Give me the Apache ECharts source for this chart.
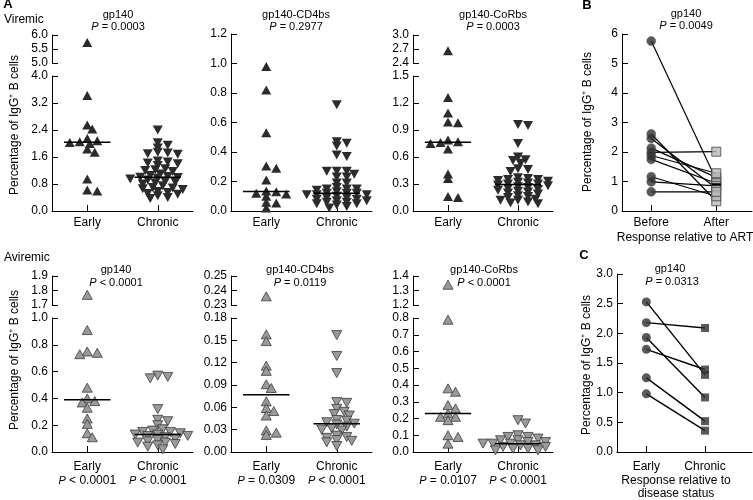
<!DOCTYPE html>
<html><head><meta charset="utf-8">
<script src="https://cdn.jsdelivr.net/npm/echarts@6/dist/echarts.min.js"></script>
<style>html,body{margin:0;padding:0;background:#fff}#c{width:753px;height:500px}</style>
</head><body><div id="c"></div>
<script>
// ================= DATA =================
const groupLabels = ['Early', 'Chronic'];
const artLabels = ['Before', 'After'];
const antigenTitles = ['gp140', 'gp140-CD4bs', 'gp140-CoRbs'];
const pViremic = ['= 0.0003', '= 0.2977', '= 0.0003'];
const pAviremic = ['< 0.0001', '= 0.0119', '< 0.0001'];
const pAviremicEarly = ['< 0.0001', '= 0.0309', '= 0.0107'];
const pAviremicChronic = ['< 0.0001', '< 0.0001', '< 0.0001'];
const pArt = '= 0.0049';
const pDisease = '= 0.0313';

// Viremic
const vGp140Early = [5.73, 3.42, 2.55, 2.43, 2.15, 2.08, 2.05, 2.03, 2.00, 1.84, 1.74, 0.95, 0.62, 0.59];
const vGp140Chronic = [2.40, 2.02, 1.95, 1.87, 1.74, 1.72, 1.70, 1.68, 1.48, 1.45, 1.42, 1.40, 1.35, 1.25, 1.22, 1.20, 1.17, 1.10, 1.05, 1.02, 1.00, 0.99, 0.97, 0.95, 0.92, 0.88, 0.86, 0.84, 0.80, 0.75, 0.70, 0.68, 0.66, 0.64, 0.58, 0.55, 0.52, 0.50, 0.45, 0.40, 0.37];
const vCd4Early = [0.98, 0.82, 0.53, 0.305, 0.29, 0.21, 0.135, 0.13, 0.12, 0.115, 0.10, 0.06, 0.055, 0.02];
const vCd4Chronic = [0.72, 0.47, 0.46, 0.44, 0.38, 0.37, 0.27, 0.27, 0.27, 0.25, 0.23, 0.23, 0.19, 0.19, 0.16, 0.15, 0.15, 0.15, 0.14, 0.13, 0.12, 0.12, 0.12, 0.11, 0.11, 0.11, 0.10, 0.10, 0.09, 0.09, 0.08, 0.08, 0.07, 0.07, 0.06, 0.06, 0.05, 0.05, 0.04, 0.03, 0.02];
const vCoREarly = [2.66, 1.26, 1.09, 0.99, 0.98, 0.79, 0.77, 0.76, 0.75, 0.69, 0.41, 0.36, 0.16, 0.15];
const vCoRChronic = [0.96, 0.95, 0.75, 0.60, 0.57, 0.56, 0.53, 0.47, 0.46, 0.44, 0.37, 0.36, 0.35, 0.35, 0.34, 0.33, 0.32, 0.31, 0.30, 0.30, 0.29, 0.28, 0.27, 0.26, 0.25, 0.24, 0.23, 0.22, 0.21, 0.20, 0.19, 0.17, 0.16, 0.15, 0.13, 0.12, 0.12, 0.10, 0.09, 0.08];
// Aviremic
const aGp140Early = [1.77, 0.91, 0.75, 0.74, 0.73, 0.48, 0.40, 0.38, 0.37, 0.33, 0.25, 0.21, 0.14, 0.11];
const aGp140Chronic = [0.57, 0.56, 0.55, 0.32, 0.24, 0.23, 0.20, 0.17, 0.16, 0.15, 0.15, 0.14, 0.13, 0.13, 0.12, 0.12, 0.11, 0.10, 0.09, 0.08, 0.07, 0.07, 0.06, 0.05, 0.04, 0.02];
const aCd4Early = [0.236, 0.158, 0.149, 0.116, 0.109, 0.091, 0.086, 0.068, 0.059, 0.055, 0.049, 0.029, 0.026, 0.023];
const aCd4Chronic = [0.157, 0.129, 0.106, 0.067, 0.066, 0.058, 0.054, 0.051, 0.049, 0.043, 0.042, 0.040, 0.038, 0.037, 0.034, 0.032, 0.030, 0.029, 0.022, 0.020, 0.019, 0.016, 0.015, 0.013, 0.008];
const aCoREarly = [1.34, 0.79, 0.38, 0.36, 0.28, 0.26, 0.23, 0.21, 0.21, 0.19, 0.10, 0.09, 0.05];
const aCoRChronic = [0.19, 0.17, 0.10, 0.09, 0.09, 0.08, 0.07, 0.07, 0.06, 0.06, 0.05, 0.05, 0.05, 0.04, 0.04, 0.03, 0.03, 0.03, 0.02, 0.02, 0.01, 0.01];
// Panel B: before / after ART (paired)
const artBefore = [5.76, 2.61, 2.46, 2.13, 1.99, 1.88, 1.75, 1.16, 0.99, 0.65];
const artAfter  = [1.05, 0.33, 0.77, 1.14, 2.01, 1.28, 0.94, 0.50, 0.85, 0.65];
// Panel C: early / chronic (paired)
const disEarly   = [2.53, 2.18, 1.93, 1.73, 1.25, 0.98];
const disChronic = [1.30, 2.09, 0.92, 1.39, 0.52, 0.36];

// ================= LAYOUT / STYLE =================
const FONT = "'Liberation Sans', Arial, Helvetica, sans-serif";
const DARK = '#2b2b2b', GRAY = '#9a9a9a', EDGE = '#3a3a3a';
const YNAME = 'Percentage of IgG\u207A B cells';
const colX = [[52, 193], [231, 372], [413, 553]];
const topRow = {lower: {top: 76, bottom: 211}, upper: {top: 35, bottom: 63}, full: {top: 34, bottom: 211}, titleY: 15, pY: 27};
const botRow = {lower: {top: 318, bottom: 452}, upper: {top: 276, bottom: 305}, titleY: 270, pY: 283};

const panels = [
  {early: vGp140Early, chronic: vGp140Chronic, row: topRow, col: 0, title: antigenTitles[0], p: pViremic[0], tx: 118,
   lower: {max: 4.0, interval: 0.8, dec: 1}, upper: {min: 5.0, max: 6.0, interval: 0.5, dec: 1}, fill: DARK, edge: DARK},
  {early: vCd4Early, chronic: vCd4Chronic, row: topRow, col: 1, title: antigenTitles[1], p: pViremic[1], tx: 296,
   lower: {max: 1.2, interval: 0.2, dec: 1}, upper: null, fill: DARK, edge: DARK},
  {early: vCoREarly, chronic: vCoRChronic, row: topRow, col: 2, title: antigenTitles[2], p: pViremic[2], tx: 493,
   lower: {max: 1.5, interval: 0.3, dec: 1}, upper: {min: 2.4, max: 3.0, interval: 0.3, dec: 1}, fill: DARK, edge: DARK},
  {early: aGp140Early, chronic: aGp140Chronic, row: botRow, col: 0, title: antigenTitles[0], p: pAviremic[0], tx: 116,
   lower: {max: 1.0, interval: 0.2, dec: 1}, upper: {min: 1.7, max: 1.9, interval: 0.1, dec: 1}, fill: GRAY, edge: EDGE,
   sub: [pAviremicEarly[0], pAviremicChronic[0]]},
  {early: aCd4Early, chronic: aCd4Chronic, row: botRow, col: 1, title: antigenTitles[1], p: pAviremic[1], tx: 300,
   lower: {max: 0.18, interval: 0.03, dec: 2}, upper: {min: 0.23, max: 0.25, interval: 0.01, dec: 2}, fill: GRAY, edge: EDGE,
   sub: [pAviremicEarly[1], pAviremicChronic[1]]},
  {early: aCoREarly, chronic: aCoRChronic, row: botRow, col: 2, title: antigenTitles[2], p: pAviremic[2], tx: 484,
   lower: {max: 0.8, interval: 0.1, dec: 1}, upper: {min: 1.2, max: 1.4, interval: 0.1, dec: 1}, fill: GRAY, edge: EDGE,
   sub: [pAviremicEarly[2], pAviremicChronic[2]]}
];

const grid = [], xAxis = [], yAxis = [], series = [], graphic = [];
const RICH = {i: {fontStyle: 'italic', fontSize: 11, fontFamily: FONT, color: '#000'}};

function txt(x, y, text, o) {
  o = o || {};
  const size = o.size || 11;
  graphic.push({type: 'text', x: x, y: y, rotation: o.rot || 0, silent: true, z: 10,
    style: {text: text, fill: '#000', fontSize: size, fontFamily: FONT, fontWeight: o.weight || 'normal',
      align: o.align || 'center', verticalAlign: 'middle',
      rich: {i: {fontStyle: 'italic', fontSize: size, fontFamily: FONT, fill: '#000'}}}});
}
function median(a) {
  const s = a.slice().sort((p, q) => p - q); const n = s.length;
  return n % 2 ? s[(n - 1) / 2] : (s[n / 2 - 1] + s[n / 2]) / 2;
}
// beeswarm: spreads markers horizontally (pixel space) so they do not overlap
function swarm(values, toPy, pxPerUnit, w, h) {
  const order = values.map((v, i) => i).sort((a, b) => values[b] - values[a]);
  const placed = [], off = new Array(values.length).fill(0);
  const step = 2.5;
  for (const i of order) {
    const py = toPy(values[i]);
    for (let k = 0; k < 200; k++) {
      const m = Math.ceil(k / 2) * (k % 2 ? 1 : -1);
      const px = m * step;
      if (placed.every(p => ((p.x - px) / w) ** 2 + ((p.y - py) / h) ** 2 >= 1)) {
        off[i] = px / pxPerUnit; placed.push({x: px, y: py}); break;
      }
    }
  }
  return off;
}
function yAxisCfg(g, min, max, interval, dec) {
  return {gridIndex: g, type: 'value', min: min, max: max, interval: interval,
    splitLine: {show: false},
    axisLine: {show: true, onZero: false, lineStyle: {color: '#000', width: 1}},
    axisTick: {show: true, inside: true, length: 6, lineStyle: {color: '#000', width: 1}},
    axisLabel: {show: true, fontSize: 12, fontFamily: FONT, color: '#000', margin: 4,
      formatter: v => Number(v).toFixed(dec)}};
}
function xAxisCfg(g, min, max, labels, sub, margin, show) {
  return {gridIndex: g, type: 'value', min: min, max: max, show: show,
    splitLine: {show: false},
    axisLine: {show: true, onZero: false, lineStyle: {color: '#000', width: 1}},
    axisTick: {show: true, inside: true, length: 6, customValues: [0, 1], lineStyle: {color: '#000', width: 1}},
    axisLabel: {show: true, customValues: [0, 1], fontSize: 12, fontFamily: FONT, color: '#000', margin: margin,
      lineHeight: 14, rich: RICH,
      formatter: v => { const i = Math.round(v); return sub ? labels[i] + '\n{i|P} ' + sub[i] : labels[i]; }}};
}

panels.forEach(pn => {
  const [x0, x1] = colX[pn.col];
  const R = pn.row;
  const low = pn.upper ? R.lower : (R.full || R.lower);
  const xmin = -0.5, xmax = 1.5;
  const pxU = (x1 - x0) / (xmax - xmin);
  const gL = grid.length;
  grid.push({left: x0, top: low.top, width: x1 - x0, height: low.bottom - low.top});
  xAxis.push(xAxisCfg(gL, xmin, xmax, groupLabels, pn.sub, pn.sub ? 8 : 5, true));
  yAxis.push(yAxisCfg(gL, 0, pn.lower.max, pn.lower.interval, pn.lower.dec));
  let gU = -1;
  if (pn.upper) {
    gU = grid.length;
    grid.push({left: x0, top: R.upper.top, width: x1 - x0, height: R.upper.bottom - R.upper.top});
    xAxis.push(xAxisCfg(gU, xmin, xmax, groupLabels, null, 5, false));
    yAxis.push(yAxisCfg(gU, pn.upper.min, pn.upper.max, pn.upper.interval, pn.upper.dec));
  }
  const toPy = v => {
    if (pn.upper && v > pn.lower.max) {
      return R.upper.bottom - (v - pn.upper.min) / (pn.upper.max - pn.upper.min) * (R.upper.bottom - R.upper.top);
    }
    return low.bottom - v / pn.lower.max * (low.bottom - low.top);
  };
  [pn.early, pn.chronic].forEach((vals, gi) => {
    const off = swarm(vals, toPy, pxU, 9, 4.3);
    const lowPts = [], upPts = [];
    vals.forEach((v, i) => {
      const pt = [gi + off[i], v];
      if (pn.upper && v > pn.lower.max) upPts.push(pt); else lowPts.push(pt);
    });
    const base = {type: 'scatter', symbol: 'triangle', symbolSize: [10, 9], symbolRotate: gi === 0 ? 0 : 180,
      itemStyle: {color: pn.fill, borderColor: pn.edge, borderWidth: pn.fill === GRAY ? 0.8 : 0, opacity: 1},
      silent: true, z: 3};
    series.push(Object.assign({}, base, {xAxisIndex: gL, yAxisIndex: gL, data: lowPts}));
    if (gU >= 0 && upPts.length) series.push(Object.assign({}, base, {xAxisIndex: gU, yAxisIndex: gU, data: upPts}));
    const m = median(vals);
    series.push({type: 'line', xAxisIndex: gL, yAxisIndex: gL, data: [[gi - 0.33, m], [gi + 0.33, m]],
      symbol: 'none', lineStyle: {color: '#000', width: 1.5}, silent: true, z: 5});
  });
  txt(pn.tx, R.titleY, pn.title);
  txt(pn.tx, R.pY, '{i|P} ' + pn.p);
});

// ---------- Panel B ----------
(function () {
  const g = grid.length;
  grid.push({left: 622, top: 34, width: 130, height: 177});
  xAxis.push(xAxisCfg(g, -0.45, 1.55, artLabels, null, 5, true));
  yAxis.push(yAxisCfg(g, 0, 6, 1, 0));
  artBefore.forEach((b, i) => {
    series.push({type: 'line', xAxisIndex: g, yAxisIndex: g, data: [[0, b], [1, artAfter[i]]], symbol: 'none',
      lineStyle: {color: '#000', width: 1.2}, silent: true, z: 2});
  });
  series.push({type: 'scatter', xAxisIndex: g, yAxisIndex: g, data: artBefore.map(v => [0, v]), symbol: 'circle',
    symbolSize: 9, itemStyle: {color: '#303030', borderColor: '#555', borderWidth: 0.6}, silent: true, z: 3});
  series.push({type: 'scatter', xAxisIndex: g, yAxisIndex: g, data: artAfter.map(v => [1, v]), symbol: 'rect',
    symbolSize: 9, itemStyle: {color: '#b8b8b8', borderColor: '#444', borderWidth: 1}, silent: true, z: 3});
  const m = median(artAfter);
  series.push({type: 'line', xAxisIndex: g, yAxisIndex: g, data: [[0.93, m], [1.07, m]], symbol: 'none',
    lineStyle: {color: '#000', width: 2.5}, silent: true, z: 5});
  txt(686, 14, 'gp140');
  txt(686, 26, '{i|P} ' + pArt);
  txt(685, 238, 'Response relative to ART', {size: 12});
})();

// ---------- Panel C ----------
(function () {
  const g = grid.length;
  grid.push({left: 617, top: 274, width: 135, height: 178});
  xAxis.push(xAxisCfg(g, -0.5, 1.8, groupLabels, null, 8, true));
  yAxis.push(yAxisCfg(g, 0, 3.0, 0.5, 1));
  disEarly.forEach((b, i) => {
    series.push({type: 'line', xAxisIndex: g, yAxisIndex: g, data: [[0, b], [1, disChronic[i]]], symbol: 'none',
      lineStyle: {color: '#000', width: 1.4}, silent: true, z: 2});
  });
  series.push({type: 'scatter', xAxisIndex: g, yAxisIndex: g, data: disEarly.map(v => [0, v]), symbol: 'circle',
    symbolSize: 9, itemStyle: {color: '#303030'}, silent: true, z: 3});
  series.push({type: 'scatter', xAxisIndex: g, yAxisIndex: g, data: disChronic.map(v => [1, v]), symbol: 'rect',
    symbolSize: 8, itemStyle: {color: '#303030'}, silent: true, z: 3});
  txt(670, 269, 'gp140');
  txt(672, 282, '{i|P} ' + pDisease);
  txt(676, 481, 'Response relative to', {size: 12});
  txt(676, 494, 'disease status', {size: 12});
})();

// ---------- labels ----------
txt(8, 4, 'A', {size: 13, weight: 'bold'});
txt(4, 20, 'Viremic', {size: 12, align: 'left'});
txt(4, 258, 'Aviremic', {size: 12, align: 'left'});
txt(587, 5, 'B', {size: 13, weight: 'bold'});
txt(584, 255, 'C', {size: 13, weight: 'bold'});
txt(15, 125, YNAME, {size: 12, rot: Math.PI / 2});
txt(15, 360, YNAME, {size: 12, rot: Math.PI / 2});
txt(588, 122, YNAME, {size: 12, rot: Math.PI / 2});
txt(587, 365, YNAME, {size: 12, rot: Math.PI / 2});

const chart = echarts.init(document.getElementById('c'), null, {renderer: 'canvas'});
chart.setOption({animation: false, backgroundColor: '#fff', grid: grid, xAxis: xAxis, yAxis: yAxis,
  series: series, graphic: {elements: graphic}});
</script></body></html>
